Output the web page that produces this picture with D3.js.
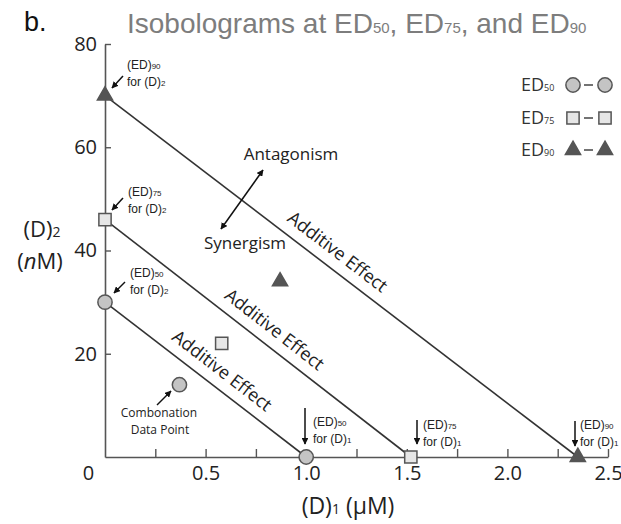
<!DOCTYPE html>
<html><head><meta charset="utf-8">
<script src="https://cdn.jsdelivr.net/npm/d3@7"></script>
<style>
body{margin:0;background:#fff;}
svg{display:block;}
</style>
</head><body>
<svg id="c" width="621" height="524"></svg>
<script>
// ---- data ----
const levels = ["50", "75", "90"];
const aloneD1 = [1.0, 1.52, 2.35];     // (ED)x for (D)1 alone, µM
const aloneD2 = [30, 46, 70];          // (ED)x for (D)2 alone, nM
const comboD1 = [0.37, 0.58, 0.87];    // combination data points
const comboD2 = [14, 22, 34];
const shapes = ["circle", "square", "triangle"];
const xTicks = [0, 0.25, 0.5, 0.75, 1.0, 1.25, 1.5, 1.75, 2.0, 2.25, 2.5];
const xTickLabels = ["0", "", "0.5", "", "1.0", "", "1.5", "", "2.0", "", "2.5"];
const yTicks = [20, 40, 60, 80];

const svg = d3.select("#c");
const x = d3.scaleLinear().domain([0, 2.5]).range([105, 608]);
const y = d3.scaleLinear().domain([0, 80]).range([457, 44]);
const sansM = "'Open Sans', 'Noto Sans', sans-serif";
const sansA = "'Liberation Sans', Arial, sans-serif";

// arrow marker
const defs = svg.append("defs");
defs.append("marker").attr("id", "ah").attr("viewBox", "0 0 10 10")
  .attr("refX", 9).attr("refY", 5).attr("markerWidth", 4.5).attr("markerHeight", 4.5)
  .attr("orient", "auto-start-reverse")
  .append("path").attr("d", "M0,0 L10,5 L0,10 Z").attr("fill", "#111");

// title
svg.append("text").attr("x", 24).attr("y", 31).attr("font-family", sansA)
  .attr("font-size", 27).attr("fill", "#111").text("b.");
const title = svg.append("text").attr("x", 127).attr("y", 33).attr("font-family", sansA)
  .attr("font-size", 28).attr("fill", "#7d7d7d");
title.append("tspan").text("Isobolograms at ED");
title.append("tspan").attr("font-size", 15).text(levels[0]);
title.append("tspan").text(", ED");
title.append("tspan").attr("font-size", 15).text(levels[1]);
title.append("tspan").text(", and ED");
title.append("tspan").attr("font-size", 15).text(levels[2]);

// axes
const xAxis = d3.axisBottom(x).tickValues(xTicks)
  .tickFormat((d, i) => xTickLabels[i]).tickSizeInner(-8).tickSizeOuter(0).tickPadding(9);
const gx = svg.append("g").attr("transform", `translate(0,${y(0)})`).call(xAxis);
gx.selectAll("text").attr("font-family", sansM).attr("font-size", 20).attr("fill", "#222");
gx.selectAll(".tick").filter(d => d === 0).select("text").attr("x", -17);
gx.selectAll(".tick").filter(d => d === 0).select("line").remove();

const yAxis = d3.axisLeft(y).tickValues(yTicks).tickSizeInner(-6).tickSizeOuter(0).tickPadding(8);
const gy = svg.append("g").attr("transform", `translate(${x(0)},0)`).call(yAxis);
gy.selectAll("text").attr("font-family", sansM).attr("font-size", 20).attr("fill", "#222");
svg.selectAll(".domain").attr("stroke", "#555").attr("stroke-width", 1.6);
svg.selectAll(".tick line").attr("stroke", "#555").attr("stroke-width", 1.4);

// axis labels
const yl = svg.append("text").attr("x", 42).attr("y", 237).attr("text-anchor", "middle")
  .attr("font-family", sansM).attr("font-size", 22).attr("fill", "#222");
yl.append("tspan").text("(D)");
yl.append("tspan").attr("font-size", 14).text("2");
const yl2 = svg.append("text").attr("x", 40).attr("y", 269).attr("text-anchor", "middle")
  .attr("font-family", sansM).attr("font-size", 22).attr("fill", "#222");
yl2.append("tspan").text("(");
yl2.append("tspan").attr("font-style", "italic").text("n");
yl2.append("tspan").text("M)");
const xl = svg.append("text").attr("x", 348).attr("y", 514).attr("text-anchor", "middle")
  .attr("font-family", sansM).attr("font-size", 23).attr("fill", "#222");
xl.append("tspan").text("(D)");
xl.append("tspan").attr("font-size", 14).text("1");
xl.append("tspan").text(" (\u00b5M)");

// isobole lines
const lineData = levels.map((l, i) => ({ l, d1: aloneD1[i], d2: aloneD2[i], s: shapes[i] }));
svg.selectAll(".iso").data(lineData).enter().append("line")
  .attr("x1", d => x(0)).attr("y1", d => y(d.d2))
  .attr("x2", d => x(d.d1)).attr("y2", d => y(0))
  .attr("stroke", "#333").attr("stroke-width", 1.6);

// Additive effect labels
const labelT = [0.53, 0.52, 0.47];
lineData.forEach((d, i) => {
  const x1 = x(0), y1 = y(d.d2), x2 = x(d.d1), y2 = y(0);
  const ang = Math.atan2(y2 - y1, x2 - x1);
  const t = labelT[i];
  const px = x1 + (x2 - x1) * t, py = y1 + (y2 - y1) * t;
  const off = 11;
  const cx = px + Math.sin(ang) * off, cy = py - Math.cos(ang) * off;
  svg.append("text").attr("transform", `translate(${cx},${cy}) rotate(${ang * 180 / Math.PI})`)
    .attr("text-anchor", "middle").attr("font-family", sansM).attr("font-size", 18)
    .attr("fill", "#222").text("Additive Effect");
});

// markers
const symType = { circle: d3.symbolCircle, square: d3.symbolSquare, triangle: d3.symbolTriangle };
const symSize = { circle: 160, square: 150, triangle: 100 };
const symFill = { circle: "#c4c4c4", square: "#e6e6e6", triangle: "#555" };
function drawSym(s, cx, cy) {
  svg.append("path").attr("d", d3.symbol().type(symType[s]).size(symSize[s])())
    .attr("transform", `translate(${cx},${cy})`)
    .attr("fill", symFill[s]).attr("stroke", "#555").attr("stroke-width", 1.5);
}
lineData.forEach((d, i) => {
  drawSym(d.s, x(0), y(d.d2));
  drawSym(d.s, x(d.d1), y(0));
  drawSym(d.s, x(comboD1[i]), y(comboD2[i]));
});

// annotations
function arrow(x1, y1, x2, y2, both) {
  const l = svg.append("line").attr("x1", x1).attr("y1", y1).attr("x2", x2).attr("y2", y2)
    .attr("stroke", "#111").attr("stroke-width", 1.5).attr("marker-end", "url(#ah)");
  if (both) l.attr("marker-start", "url(#ah)");
}
function edLabel(tx, ty, lvl, drug) {
  const t1 = svg.append("text").attr("x", tx).attr("y", ty).attr("font-family", sansA)
    .attr("font-size", 12).attr("fill", "#222");
  t1.append("tspan").text("(ED)");
  t1.append("tspan").attr("font-size", 8).text(lvl);
  const t2 = svg.append("text").attr("x", tx).attr("y", ty + 17).attr("font-family", sansA)
    .attr("font-size", 12).attr("fill", "#222");
  t2.append("tspan").text("for (D)");
  t2.append("tspan").attr("font-size", 8).text(drug);
}
// (D)2 side
const d2Lab = [[130, 277], [128, 196], [127, 69]];
const d2Arr = [[125, 282, 114, 293], [123, 198, 112, 210], [123, 76, 112, 88]];
lineData.forEach((d, i) => {
  edLabel(d2Lab[i][0], d2Lab[i][1], d.l, "2");
  arrow(...d2Arr[i]);
});
// (D)1 side
const d1Lab = [[313, 426], [423, 429], [580, 429]];
const d1Arr = [[305, 408, 305, 444], [417, 420, 417, 444], [575, 421, 575, 446]];
lineData.forEach((d, i) => {
  edLabel(d1Lab[i][0], d1Lab[i][1], d.l, "1");
  arrow(...d1Arr[i]);
});

// antagonism / synergism
svg.append("text").attr("x", 291).attr("y", 160).attr("text-anchor", "middle")
  .attr("font-family", sansM).attr("font-size", 17).attr("fill", "#222").text("Antagonism");
svg.append("text").attr("x", 245).attr("y", 249).attr("text-anchor", "middle")
  .attr("font-family", sansM).attr("font-size", 17).attr("fill", "#222").text("Synergism");
arrow(221, 229, 263, 170, true);

// combination data point label
svg.append("text").attr("x", 159).attr("y", 417).attr("text-anchor", "middle")
  .attr("font-family", sansM).attr("font-size", 12).attr("fill", "#222").text("Combonation");
svg.append("text").attr("x", 160).attr("y", 434).attr("text-anchor", "middle")
  .attr("font-family", sansM).attr("font-size", 12).attr("fill", "#222").text("Data Point");
arrow(157, 405, 171, 391);

// legend
const legY = [85, 118, 150];
lineData.forEach((d, i) => {
  const t = svg.append("text").attr("x", 521).attr("y", legY[i] + 6).attr("font-family", sansM)
    .attr("font-size", 18).attr("fill", "#333");
  t.append("tspan").text("ED");
  t.append("tspan").attr("font-size", 9).text(d.l);
  drawSym(d.s, 573, legY[i]);
  svg.append("line").attr("x1", 584).attr("x2", 593).attr("y1", legY[i]).attr("y2", legY[i])
    .attr("stroke", "#444").attr("stroke-width", 1.5);
  drawSym(d.s, 605, legY[i]);
});
</script>
</body></html>
